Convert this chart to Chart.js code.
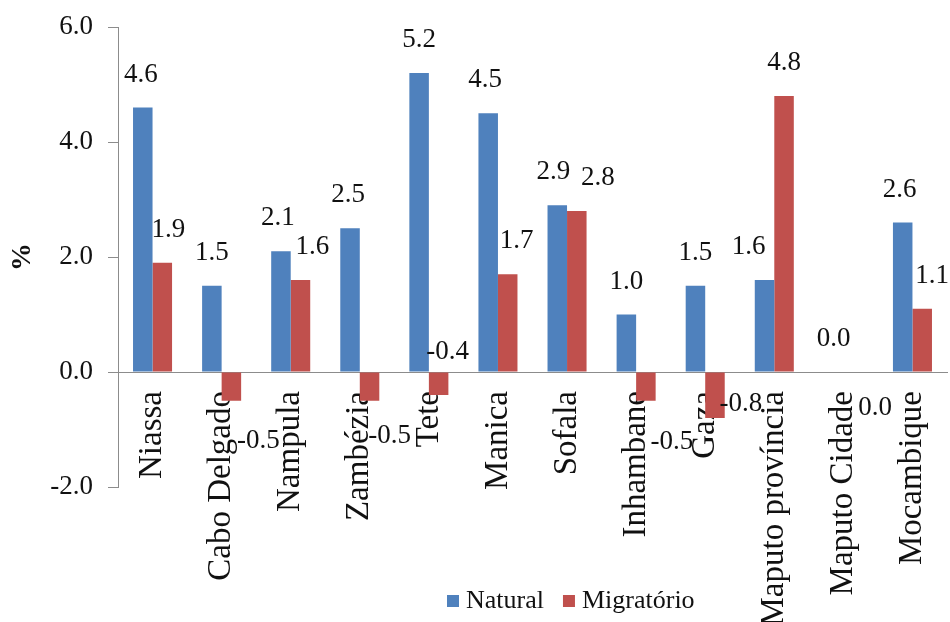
<!DOCTYPE html>
<html>
<head>
<meta charset="utf-8">
<script src="https://cdn.jsdelivr.net/npm/chart.js@4"></script>
<style>
  html, body { margin: 0; padding: 0; background: #ffffff; }
  #wrap { width: 950px; height: 622px; position: relative; }
</style>
</head>
<body>
<div id="wrap"><canvas id="chart"></canvas></div>
<script>
// Provinces of Mozambique and the national total
const categories = ['Niassa', 'Cabo Delgado', 'Nampula', 'Zambézia', 'Tete', 'Manica',
  'Sofala', 'Inhambane', 'Gaza', 'Maputo província', 'Maputo Cidade', 'Mocambique'];

// Growth components (%)
const naturalValues    = [4.6, 1.5, 2.1, 2.5, 5.2, 4.5, 2.9, 1.0, 1.5, 1.6, 0.0, 2.6];
const migratorioValues = [1.9, -0.5, 1.6, -0.5, -0.4, 1.7, 2.8, -0.5, -0.8, 4.8, 0.0, 1.1];

const seriesNames = ['Natural', 'Migratório'];
const yTickValues = [-2.0, 0.0, 2.0, 4.0, 6.0];

const FONT = "'Liberation Serif', 'Times New Roman', serif";
const TEXT = '#111111';
const AXIS = '#8c8c8c';
const BLUE = '#4f81bd';
const RED = '#c0504d';

// Value label placement (pixel nudges relative to the bar end)
const labelPlacement = {
  0: {
    dx: [-2, 0, -3, -2, 0, -3, -4, 0, 0, -16, 0, -3],
    dy: [-33, -33, -33, -33, -33, -33, -33, -33, -33, -33, -33, -33]
  },
  1: {
    dx: [6, 27, 12, 20, 9, 9, 21, 26, 26, 0, 22, 10],
    dy: [-33, 40, -33, 35, -43, -33, -33, 41, -14, -33, 36, -33]
  }
};

const valueLabels = {
  id: 'valueLabels',
  afterDatasetsDraw(chart) {
    const ctx = chart.ctx;
    ctx.save();
    ctx.font = `27px ${FONT}`;
    ctx.fillStyle = TEXT;
    ctx.textAlign = 'center';
    ctx.textBaseline = 'middle';
    chart.data.datasets.forEach((ds, di) => {
      const meta = chart.getDatasetMeta(di);
      const place = labelPlacement[di];
      meta.data.forEach((bar, i) => {
        const v = ds.data[i];
        ctx.fillText(v.toFixed(1), bar.x + place.dx[i], bar.y + place.dy[i]);
      });
    });
    ctx.restore();
  }
};

const bottomLegend = {
  id: 'bottomLegend',
  afterDraw(chart) {
    const ctx = chart.ctx;
    ctx.save();
    ctx.font = `26px ${FONT}`;
    ctx.textBaseline = 'middle';
    ctx.textAlign = 'left';
    let x = 447;
    const yMid = 601;
    chart.data.datasets.forEach((ds) => {
      ctx.fillStyle = ds.backgroundColor;
      ctx.fillRect(x, yMid - 6, 12, 12);
      x += 12 + 7;
      ctx.fillStyle = TEXT;
      ctx.fillText(ds.label, x, yMid);
      x += ctx.measureText(ds.label).width + 19;
    });
    ctx.restore();
  }
};

new Chart(document.getElementById('chart'), {
  type: 'bar',
  data: {
    labels: categories,
    datasets: [
      { label: seriesNames[0], data: naturalValues, backgroundColor: BLUE },
      { label: seriesNames[1], data: migratorioValues, backgroundColor: RED }
    ]
  },
  options: {
    responsive: true,
    maintainAspectRatio: false,
    animation: false,
    layout: { padding: { top: 27, bottom: 135, left: 0, right: 3 } },
    datasets: { bar: { categoryPercentage: 0.565, barPercentage: 1.0 } },
    plugins: {
      legend: { display: false },
      tooltip: { enabled: false }
    },
    scales: {
      x: {
        position: { y: 0 },
        offset: true,
        grid: { display: false, drawTicks: false },
        border: { display: true, color: AXIS, width: 1 },
        ticks: {
          autoSkip: false,
          minRotation: 90,
          maxRotation: 90,
          padding: 19,
          color: TEXT,
          font: { family: FONT, size: 33 }
        },
        afterFit(scale) { scale.paddingLeft = 0; scale.paddingRight = 0; }
      },
      y: {
        min: -2,
        max: 6,
        afterBuildTicks(scale) { scale.ticks = yTickValues.map(v => ({ value: v })); },
        ticks: {
          callback: (v) => Number(v).toFixed(1),
          padding: 15,
          color: TEXT,
          font: { family: FONT, size: 27 }
        },
        grid: { drawOnChartArea: false, drawTicks: true, tickLength: 10, color: AXIS },
        border: { display: true, color: AXIS, width: 1 },
        title: {
          display: true,
          text: '%',
          color: TEXT,
          font: { family: FONT, size: 28, weight: 'bold' },
          padding: { top: 6, bottom: 0 }
        },
        afterFit(scale) {
          scale.width = 118;
          scale.paddingTop = 0;
          scale.paddingBottom = 0;
        }
      }
    }
  },
  plugins: [valueLabels, bottomLegend]
});
</script>
</body>
</html>
